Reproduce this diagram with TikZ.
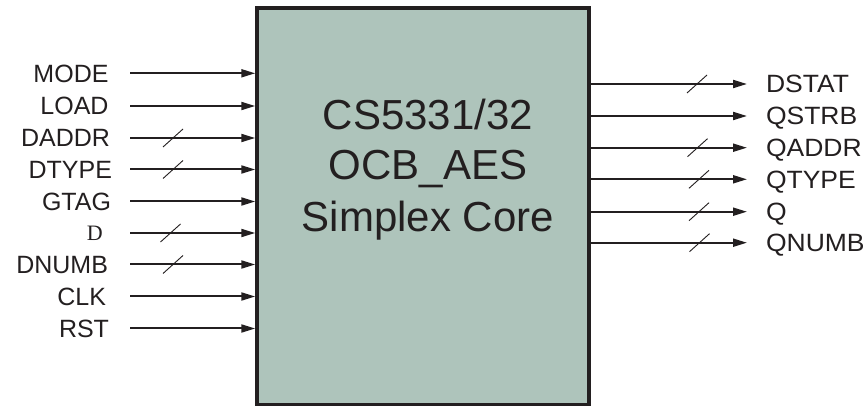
\documentclass[tikz,border=0pt]{standalone}
\usepackage{fontspec}
\setmainfont{Liberation Sans}
\newfontfamily\serifD{Liberation Serif}
\usetikzlibrary{arrows.meta}
\definecolor{boxfill}{RGB}{174,196,187}
\definecolor{ink}{RGB}{35,31,32}
\begin{document}
\begin{tikzpicture}[x=1pt,y=-1pt,
  lab/.style={font=\fontsize{25}{25}\selectfont, text=ink, inner sep=0pt, outer sep=0pt, text height=17.9pt, text depth=0pt},
  rlab/.style={lab, xscale=1.06},
  title/.style={font=\fontsize{42}{42}\selectfont, text=ink, inner sep=0pt, anchor=base},
  sig/.style={draw=ink, line width=2pt, -{Triangle[length=14pt,width=8pt]}},
  bus/.style={draw=ink, line width=0.9pt},
  core/.style={draw=ink, fill=boxfill, line width=3.5pt, minimum width=332pt, minimum height=396.5pt, inner sep=0pt}]
\useasboundingbox (0,0) rectangle (863,406);
\node[core] (box) at (423,206.25) {};
\node[title] (t1) at (428,130) {CS5331/32};
\node[title] (t2) at (428,180) {OCB\_AES};
\node[title] (t3) at (428,232) {Simplex Core};
% inputs
\foreach \n/\y/\x [count=\i] in {MODE/73.3/108.5, LOAD/106/108.5, DADDR/138/110, DTYPE/169.5/112, GTAG/201.5/111, DNUMB/264.5/108, CLK/296.5/106, RST/328.5/109} {
  \node[lab, anchor=east] (in\i) at (\x,\y) {\n};
  \coordinate (s\i) at (130,\y);
  \draw[sig] (s\i) -- (s\i -| box.west);
}
\node[font=\fontsize{22}{22}\selectfont\serifD, text=ink, inner sep=0pt, text height=14.6pt, text depth=0pt, anchor=east] (inD) at (103,233) {D};
\coordinate (sD) at (130,233);
\draw[sig] (sD) -- (sD -| box.west);
% input bus slashes
\foreach \x/\y in {173/138, 173/169.5, 170.5/233, 173/264.5} {
  \draw[bus, shift={(\x,\y)}] (-10,9) -- (10,-9);
}
% outputs
\foreach \n/\y [count=\i] in {DSTAT/84, QSTRB/116, QADDR/147.7, QTYPE/179.3, Q/211.7, QNUMB/242.7} {
  \node[rlab, anchor=west] (out\i) at (766,\y) {\n};
  \coordinate (e\i) at (747,\y);
  \draw[sig] (box.east |- e\i) -- (e\i);
}
\foreach \x/\y in {697/84, 697.5/147.7, 699/179.3, 699/211.7, 699.5/242.7} {
  \draw[bus, shift={(\x,\y)}] (-10,9) -- (10,-9);
}
\end{tikzpicture}
\end{document}
